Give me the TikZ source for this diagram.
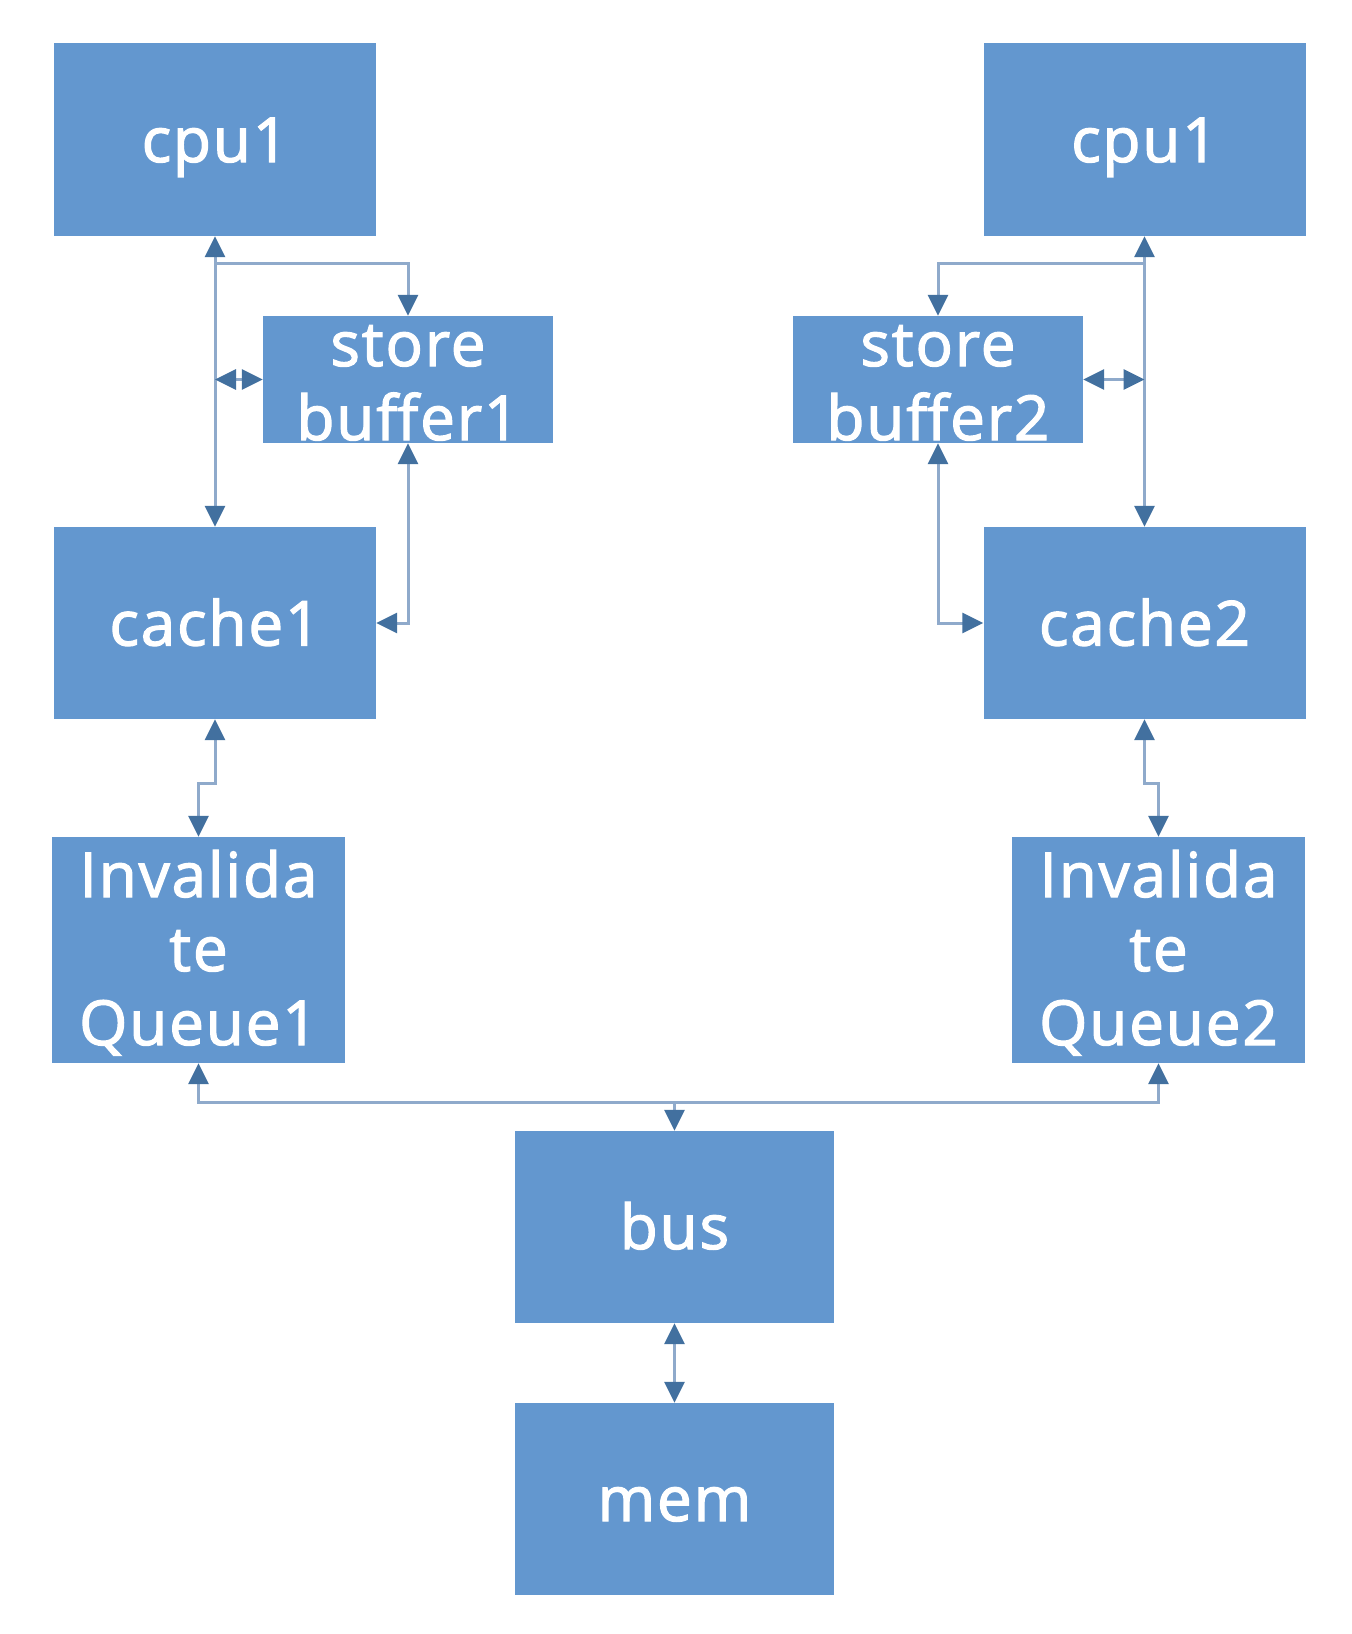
\documentclass[tikz,border=0pt]{standalone}
\usepackage{fontspec}
\setmainfont{Open Sans}
\newfontfamily\lblfont{Open Sans}[FakeBold=2,LetterSpace=3]
\usetikzlibrary{arrows.meta,calc}
\definecolor{boxfill}{HTML}{6397CF}
\definecolor{linec}{HTML}{8FAACB}
\definecolor{tipc}{HTML}{42709F}
\tikzset{
  blk/.style={rectangle, fill=boxfill, draw=none, inner sep=0pt},
  txt/.style={text=white, inner sep=0pt, font=\lblfont\fontsize{62}{74}\selectfont, align=center},
  conn/.style={draw=linec, line width=3pt},
  tp/.tip={Triangle[length=21pt,width=20pt,color=tipc]},
}
\begin{document}
\begin{tikzpicture}[x=1pt,y=-1pt]
\useasboundingbox[fill=white] (0,0) rectangle (1352,1634);
% boxes
\node[blk, minimum width=322pt, minimum height=193pt] (cpuL) at (215,139.5) {};
\node[blk, minimum width=322pt, minimum height=193pt] (cpuR) at (1144.5,139.5) {};
\node[blk, minimum width=290pt, minimum height=127pt] (sb1) at (408,379.5) {};
\node[blk, minimum width=290pt, minimum height=127pt] (sb2) at (938,379.5) {};
\node[blk, minimum width=322pt, minimum height=192pt] (cache1) at (215,623) {};
\node[blk, minimum width=322pt, minimum height=192pt] (cache2) at (1144.5,623) {};
\node[blk, minimum width=293pt, minimum height=226pt] (iq1) at (198.5,950) {};
\node[blk, minimum width=293pt, minimum height=226pt] (iq2) at (1158.5,950) {};
\node[blk, minimum width=319pt, minimum height=192pt] (bus) at (674.5,1227) {};
\node[blk, minimum width=319pt, minimum height=192pt] (mem) at (674.5,1499) {};
% texts (base anchor = baseline of last line)
\node[txt, anchor=base] (cpuLt) at ($(cpuL.center)+(0,22.5)$) {cpu1};
\node[txt, anchor=base] (cpuRt) at ($(cpuR.center)+(0,22.5)$) {cpu1};
\node[txt, anchor=base] (sb1t) at ($(sb1.center)+(0,60.5)$) {store\\buffer1};
\node[txt, anchor=base] (sb2t) at ($(sb2.center)+(0,60.5)$) {store\\buffer2};
\node[txt, anchor=base] (cache1t) at ($(cache1.center)+(0,22.5)$) {cache1};
\node[txt, anchor=base] (cache2t) at ($(cache2.center)+(0,22.5)$) {cache2};
\node[txt, anchor=base] (iq1t) at ($(iq1.center)+(0,95)$) {Invalida\\te\\Queue1};
\node[txt, anchor=base] (iq2t) at ($(iq2.center)+(0,95)$) {Invalida\\te\\Queue2};
\node[txt, anchor=base] (bust) at ($(bus.center)+(0,22)$) {bus};
\node[txt, anchor=base] (memt) at ($(mem.center)+(0,22)$) {mem};
% junction coordinates
\coordinate (jL) at ($(cpuL.south)+(0,27)$);
\coordinate (jR) at ($(cpuR.south)+(0,27)$);
\coordinate (busj) at ($(bus.north)+(0,-28)$);
% left side connectors
\draw[conn, tp-tp] (cpuL.south) -- (cache1.north);
\draw[conn, -tp] (jL) -| (sb1.north);
\draw[conn, tp-tp] (cpuL.south |- sb1.west) -- (sb1.west);
\draw[conn, tp-tp] (sb1.south) |- (cache1.east);
\draw[conn, tp-tp] (cache1.south) -- ++(0,64) -| (iq1.north);
% right side connectors
\draw[conn, tp-tp] (cpuR.south) -- (cache2.north);
\draw[conn, -tp] (jR) -| (sb2.north);
\draw[conn, tp-tp] (cpuR.south |- sb2.east) -- (sb2.east);
\draw[conn, tp-tp] (sb2.south) |- (cache2.west);
\draw[conn, tp-tp] (cache2.south) -- ++(0,64) -| (iq2.north);
% bus connectors
\draw[conn, tp-] (iq1.south) |- (busj);
\draw[conn, tp-] (iq2.south) |- (busj);
\draw[conn, -tp] (busj) -- (bus.north);
\draw[conn, tp-tp] (bus.south) -- (mem.north);
\end{tikzpicture}
\end{document}
